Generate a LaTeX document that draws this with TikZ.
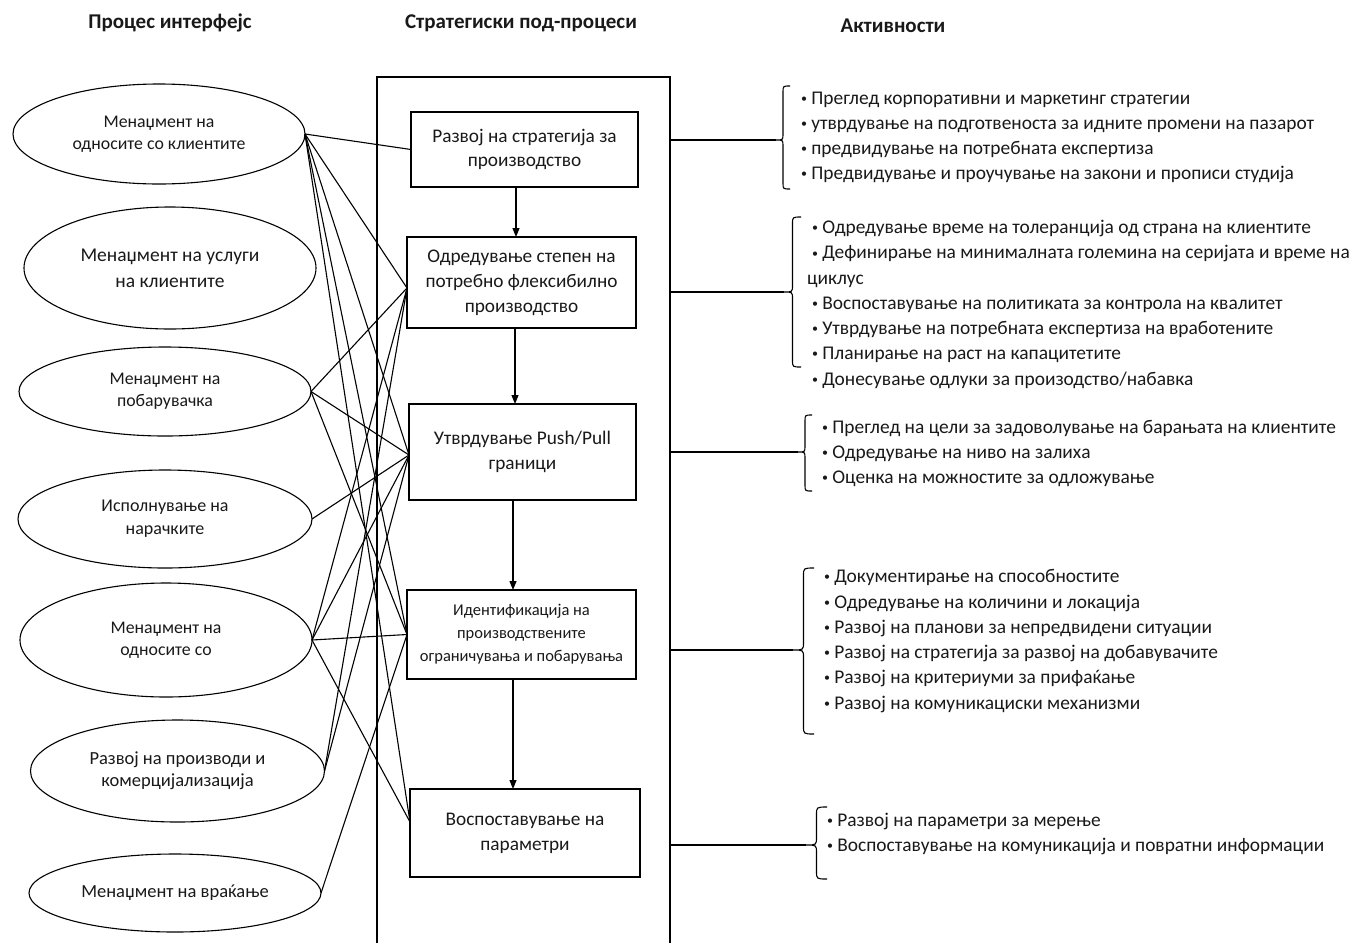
\documentclass[tikz,border=0pt]{standalone}
\usepackage{fontspec}
\setmainfont{Carlito}
\usetikzlibrary{shapes.geometric,arrows.meta,calc}

% brace opening to the right: tip x, arm x, top y, bottom y, tip y, corner radius
\newcommand{\actbrace}[6]{%
  \draw[link] (#2,#3) .. controls ({(#1+#2)/2},#3) .. ({(#1+#2)/2},{#3+#6})
    -- ({(#1+#2)/2},{#5-#6}) .. controls ({(#1+#2)/2},#5) .. (#1,#5)
    .. controls ({(#1+#2)/2},#5) .. ({(#1+#2)/2},{#5+#6})
    -- ({(#1+#2)/2},{#4-#6}) .. controls ({(#1+#2)/2},#4) .. (#2,#4);}
% small list bullet
\newcommand{\actbul}{\raisebox{1.5pt}{\fontsize{12}{12}\selectfont•}\ }

\begin{document}
\begin{tikzpicture}[x=1pt,y=-1pt,
  every node/.style={inner sep=0pt,outer sep=0pt,text=black!90},
  link/.style={line width=1.1pt},
  proc/.style={draw,ellipse,line width=1.1pt,align=center},
  sub/.style={draw,rectangle,line width=1.2pt,align=center},
  flow/.style={line width=1.1pt,-{Triangle[length=9pt,width=7pt]}},
  head/.style={font=\fontsize{21}{24}\selectfont\bfseries},
  act/.style={anchor=west,font=\fontsize{19.4}{22}\selectfont,text height=12pt,text depth=4pt}
]
\useasboundingbox (0,0) rectangle (1357,943);

% column headings
\node[head] (h1) at (170,23) {Процес интерфејс};
\node[head] (h2) at (521,23) {Стратегиски под-процеси};
\node[head] (h3) at (893,26) {Активности};

% frame of the strategic sub-processes column
\draw[line width=1.3pt] (377,943) -- (377,77) -- (670,77) -- (670,943);

% process interfaces
\node[proc,minimum width=292pt,minimum height=100pt,font=\fontsize{17.8}{22}\selectfont] (e1) at (159,134) {Менаџмент на\\односите со клиентите};
\node[proc,minimum width=292pt,minimum height=122pt,font=\fontsize{19.5}{26}\selectfont] (e2) at (170,268) {Менаџмент на услуги\\на клиентите};
\node[proc,minimum width=292pt,minimum height=89pt,font=\fontsize{17.8}{22}\selectfont] (e3) at (165,391.5) {Менаџмент на\\побарувачка};
\node[proc,minimum width=294pt,minimum height=98pt,font=\fontsize{18}{23}\selectfont] (e4) at (165,519) {Исполнување на\\нарачките};
\node[proc,minimum width=292pt,minimum height=114pt,font=\fontsize{17.8}{22}\selectfont] (e5) at (166,640) {Менаџмент на\\односите со};
\node[proc,minimum width=294pt,minimum height=102pt,font=\fontsize{18.5}{22}\selectfont] (e6) at (177.5,771) {Развој на производи и\\комерцијализација};
\node[proc,minimum width=292pt,minimum height=78pt,font=\fontsize{18.5}{22}\selectfont] (e7) at (175,893) {Менаџмент на враќање};

% strategic sub-processes
\node[sub,minimum width=227pt,minimum height=75pt,font=\fontsize{19.3}{24.5}\selectfont] (b1) at (524.5,149.5) {Развој на стратегија за\\производство};
\node[sub,minimum width=229pt,minimum height=91pt,font=\fontsize{19.3}{25}\selectfont] (b2) at (521.5,282.5) {Одредување степен на\\потребно флексибилно\\производство};
\node[sub,minimum width=227pt,minimum height=96pt,font=\fontsize{19.3}{25}\selectfont] (b3) at (522.5,452) {Утврдување Push/Pull\\граници};
\node[sub,minimum width=229pt,minimum height=89pt,font=\fontsize{16.5}{23}\selectfont] (b4) at (521.5,634.5) {Идентификација на\\производствените\\ограничувања и побарувања};
\node[sub,minimum width=230pt,minimum height=88pt,font=\fontsize{19.3}{25}\selectfont] (b5) at (525,833) {Воспоставување на\\параметри};

% flow between sub-processes
\draw[flow] ([xshift=-8.5pt]b1.south) -- ([xshift=-8.5pt]b1.south |- b2.north);
\draw[flow] ([xshift=-6.5pt]b2.south) -- ([xshift=-6.5pt]b2.south |- b3.north);
\draw[flow] ([xshift=-9.5pt]b3.south) -- ([xshift=-9.5pt]b3.south |- b4.north);
\draw[flow] ([xshift=-8.5pt]b4.south) -- ([xshift=-8.5pt]b4.south |- b5.north);

% junction points on the sub-process boxes
\coordinate (p1) at (b1.west);
\coordinate (p2) at ([yshift=-5.5pt]b2.west);
\coordinate (p3) at ([yshift=-3pt]b3.west);
\coordinate (p4) at (b4.west);
\coordinate (p5) at ([yshift=11pt]b5.west);

% interfaces between processes and sub-processes
\foreach \t in {p1,p2,p3,p4,p5} \draw[link] (e1.east) -- (\t);
\foreach \t in {p2,p3,p4} \draw[link] (e3.east) -- (\t);
\draw[link] (e4.east) -- (p3);
\foreach \t in {p2,p3,p4,p5} \draw[link] (e5.east) -- (\t);
\foreach \t in {p2,p3} \draw[link] (e6.east) -- (\t);
\draw[link] (e7.east) -- (p4);

% leaders from the column to the activity braces
\coordinate (r1) at (670,140);  \coordinate (t1) at (776,140);
\coordinate (r2) at (670,292);  \coordinate (t2) at (784,292);
\coordinate (r3) at (670,452);  \coordinate (t3) at (798,452);
\coordinate (r4) at (670,650);  \coordinate (t4) at (793,650);
\coordinate (r5) at (670,845);  \coordinate (t5) at (806,845);
\draw[link] (r1) -- (t1);
\draw[link] (r2) -- (t2);
\draw[link] (r3) -- (t3);
\draw[link] (r4) -- (t4);
\draw[link] (r5) -- (t5);

\actbrace{776}{790}{86}{189}{140}{6}
\actbrace{784}{801}{217}{367}{292}{7}
\actbrace{798}{812}{415}{491}{452}{6}
\actbrace{793}{814}{568}{734}{650}{8}
\actbrace{806}{827}{807}{879}{845}{8}

% activities
\node[act] (a11) at (801,100) {\actbul Преглед корпоративни и маркетинг стратегии};
\node[act] (a12) at (801,125) {\actbul утврдување на подготвеноста за идните промени на пазарот};
\node[act] (a13) at (801,150) {\actbul предвидување на потребната експертиза};
\node[act] (a14) at (801,175) {\actbul Предвидување и проучување на закони и прописи студија};

\node[act] (a21) at (812,229) {\actbul Одредување време на толеранција од страна на клиентите};
\node[act] (a22) at (812,254.5) {\actbul Дефинирање на минималната големина на серијата и време на};
\node[act] (a23) at (807,280) {циклус};
\node[act] (a24) at (812,305) {\actbul Воспоставување на политиката за контрола на квалитет};
\node[act] (a25) at (812,330) {\actbul Утврдување на потребната експертиза на вработените};
\node[act] (a26) at (812,355) {\actbul Планирање на раст на капацитетите};
\node[act] (a27) at (812,381) {\actbul Донесување одлуки за произодство/набавка};

\node[act] (a31) at (822,429) {\actbul Преглед на цели за задоволување на барањата на клиентите};
\node[act] (a32) at (822,454) {\actbul Одредување на ниво на залиха};
\node[act] (a33) at (822,479) {\actbul Оценка на можностите за одложување};

\node[act] (a41) at (824,578) {\actbul Документирање на способностите};
\node[act] (a42) at (824,604) {\actbul Одредување на количини и локација};
\node[act] (a43) at (824,629) {\actbul Развој на планови за непредвидени ситуации};
\node[act] (a44) at (824,654) {\actbul Развој на стратегија за развој на добавувачите};
\node[act] (a45) at (824,679) {\actbul Развој на критериуми за прифаќање};
\node[act] (a46) at (824,705) {\actbul Развој на комуникациски механизми};

\node[act] (a51) at (827,822) {\actbul Развој на параметри за мерење};
\node[act] (a52) at (827,847) {\actbul Воспоставување на комуникација и повратни информации};
\end{tikzpicture}
\end{document}
